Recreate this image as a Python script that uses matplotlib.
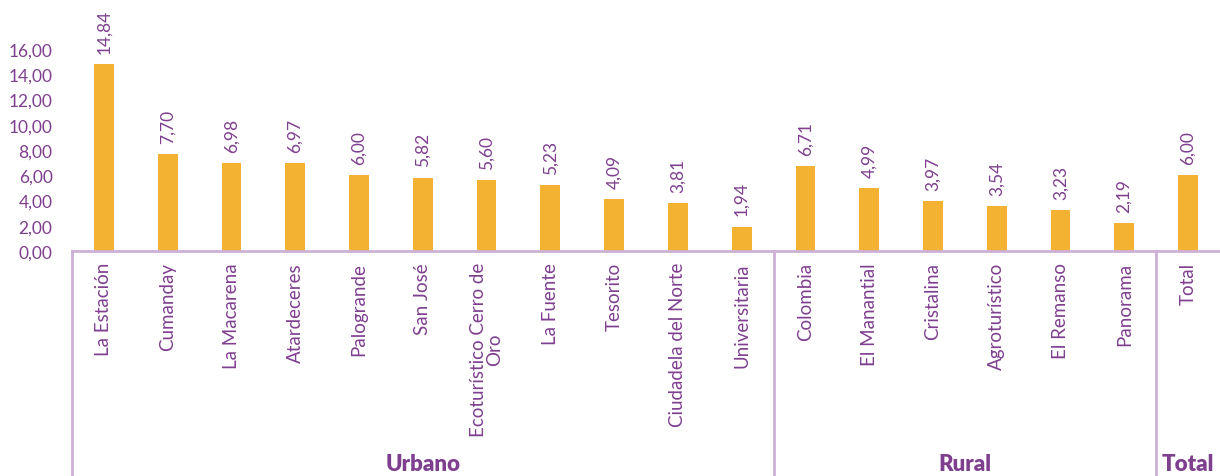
import matplotlib.pyplot as plt
import numpy as np

# Datos
barrios = ['La Estación', 'Cumanday', 'La Macarena', 'Atardeceres', 'Palogrande',
           'San José', 'Ecoturístico Cerro de\nOro', 'La Fuente', 'Tesorito',
           'Ciudadela del Norte', 'Universitaria',
           'Colombia', 'El Manantial', 'Cristalina', 'Agroturístico', 'El Remanso',
           'Panorama', 'Total']
valores = [14.84, 7.70, 6.98, 6.97, 6.00, 5.82, 5.60, 5.23, 4.09, 3.81, 1.94,
           6.71, 4.99, 3.97, 3.54, 3.23, 2.19, 6.00]
grupos = ['Urbano', 'Rural', 'Total']
tam_grupos = [11, 6, 1]

morado = '#7E3F8F'
linea = '#CDB0D6'
naranja = '#F4B233'

plt.rcParams['font.family'] = ['Lato', 'DejaVu Sans']

fig = plt.figure(figsize=(12.2, 4.77), dpi=100)
ax = fig.add_axes([0.059, 0.4717, 0.941, 0.4235])

x = np.arange(len(barrios))
ax.bar(x, valores, width=0.31, color=naranja)

# Valores encima de las barras
for i, v in enumerate(valores):
    ax.annotate(f"{v:.2f}".replace('.', ','), (x[i], v), xytext=(0, 8),
                textcoords='offset points', rotation=90, ha='center', va='bottom',
                color=morado, fontsize=12.5)

ax.set_xlim(-0.5, len(barrios) - 0.5)
ax.set_ylim(0, 16)
ax.set_yticks(np.arange(0, 17, 2))
ax.set_yticklabels([f"{t:.2f}".replace('.', ',') for t in np.arange(0, 17, 2)],
                   color=morado, fontsize=12.5)
ax.set_xticks(x)
ax.set_xticklabels(barrios, rotation=90, color=morado, fontsize=13.5,
                   va='top', ha='center', linespacing=0.95)
ax.tick_params(axis='both', length=0, pad=8)
ax.tick_params(axis='y', pad=14)

for s in ['top', 'right', 'left']:
    ax.spines[s].set_visible(False)
ax.spines['bottom'].set_color(linea)
ax.spines['bottom'].set_linewidth(2)

# Separadores y etiquetas de grupo
trans = ax.get_xaxis_transform()
inicio = -0.5
for g, n in zip(grupos, tam_grupos):
    ax.plot([inicio, inicio], [0, -1.12], transform=trans, color=linea,
            lw=2, clip_on=False)
    centro = inicio + n / 2
    ax.text(centro, -1.05, g, transform=trans, ha='center', va='center',
            color=morado, fontsize=16, fontweight='heavy')
    inicio += n

fig.savefig('out.png', dpi=100)
